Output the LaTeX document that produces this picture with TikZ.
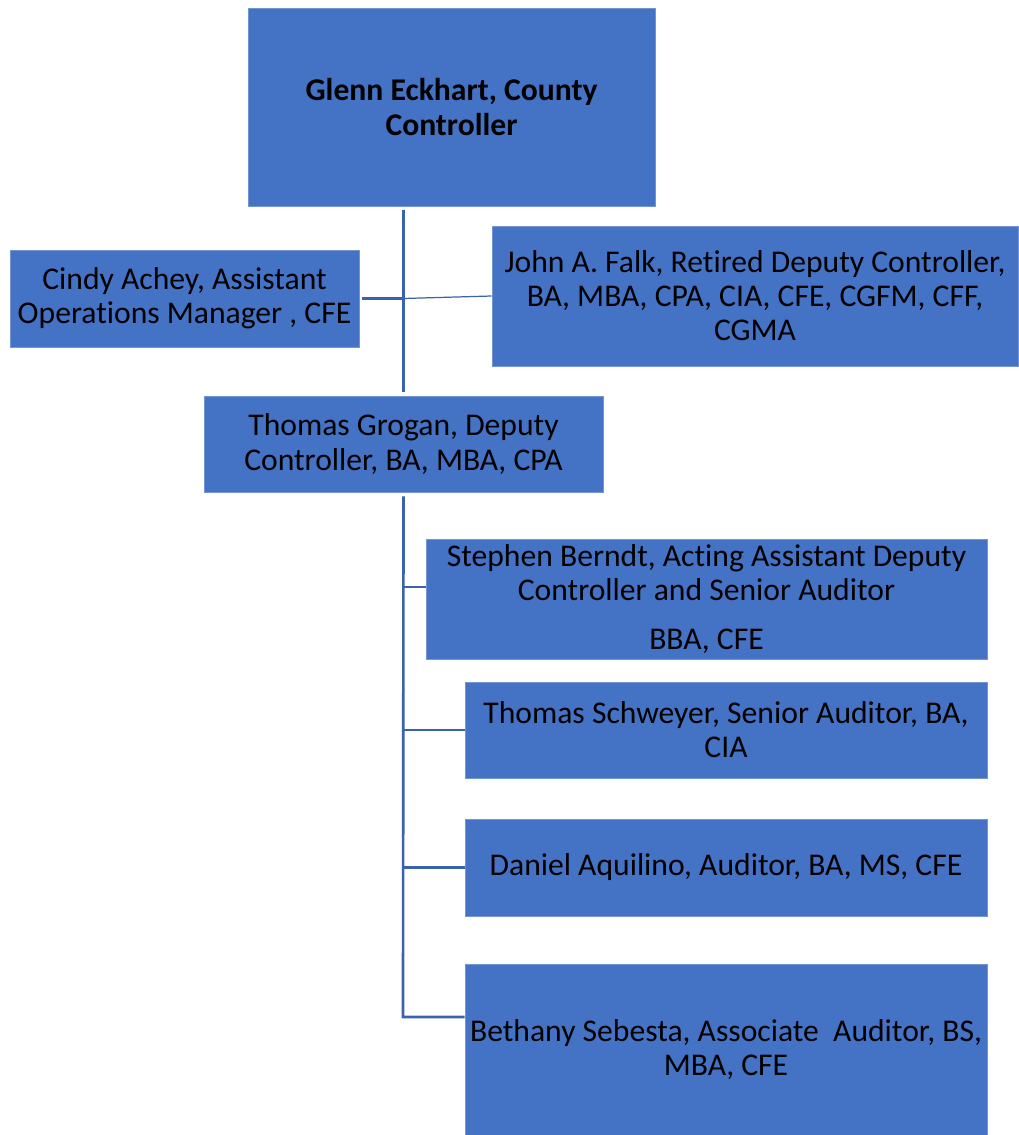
\documentclass[tikz,border=0pt]{standalone}
\usepackage{fontspec}
\setmainfont[Ligatures=NoCommon]{Carlito}
\usetikzlibrary{calc}
\definecolor{boxblue}{HTML}{4472C4}
\definecolor{lineblue}{HTML}{3B62AC}

\begin{document}
\begin{tikzpicture}[x=0.02cm,y=-0.02cm,
  box/.style={fill=boxblue,draw=boxblue!75!white,line width=0.4pt,inner sep=0pt,align=center,
    font=\fontsize{18}{19.4}\selectfont},
  link/.style={draw=lineblue,line width=1.5pt}]
	  \useasboundingbox (0,0) rectangle (1018,1135);
	  %boxes
	  \node[box,minimum width=8.14cm,minimum height=3.96cm](glenn) at (451.5,107)
	       {\bfseries Glenn Eckhart, County\\\bfseries Controller};
	  \node[box,minimum width=6.98cm,minimum height=1.94cm](cindy) at (184.5,298.5)
	       {Cindy Achey, Assistant\\Operations Manager , CFE};
	  \node[box,minimum width=10.52cm,minimum height=2.8cm](john) at (755,296)
	       {John A. Falk, Retired Deputy Controller,\\BA, MBA, CPA, CIA, CFE, CGFM, CFF,\\CGMA};
	  \node[box,minimum width=7.98cm,minimum height=1.92cm](grogan) at (403.5,444)
	       {Thomas Grogan, Deputy\\Controller, BA, MBA, CPA};
	  \node[box,minimum width=11.22cm,minimum height=2.4cm](berndt) at (706.5,599)
	       {Stephen Berndt, Acting Assistant Deputy\\Controller and Senior Auditor\\[0.3cm]BBA, CFE};
	  \node[box,minimum width=10.44cm,minimum height=1.92cm](schweyer) at (726,730)
	       {Thomas Schweyer, Senior Auditor, BA,\\CIA};
	  \node[box,minimum width=10.44cm,minimum height=1.94cm](aquilino) at (726,867.5)
	       {Daniel Aquilino, Auditor, BA, MS, CFE};
	  \node[box,minimum width=10.44cm,minimum height=3.42cm](sebesta) at (726,1049.5)
	       {Bethany Sebesta, Associate~~Auditor, BS,\\MBA, CFE};
	  %connectors
	  \coordinate (top) at (grogan.north |- 0,210);
	  \coordinate (mid) at (grogan.north |- cindy.east);
	  \coordinate (bt) at (403,1017);
	  \coordinate (st) at (403,587);
	  \draw[link] (top) -- ($(grogan.north)+(0,-4)$);
	  \draw[link] (cindy.east) ++(3,0) -- (mid);
	  \draw[draw=lineblue,line width=0.7pt] (mid) -- (john.west);
	  \draw[link] ($(grogan.south)+(0,4)$) -- (bt) -- (bt -| sebesta.west);
	  \draw[link] (st) -- (st -| berndt.west);
	  \draw[link] (grogan.south |- schweyer.west) -- (schweyer.west);
	  \draw[link] (grogan.south |- aquilino.west) -- (aquilino.west);
\end{tikzpicture}
\end{document}
